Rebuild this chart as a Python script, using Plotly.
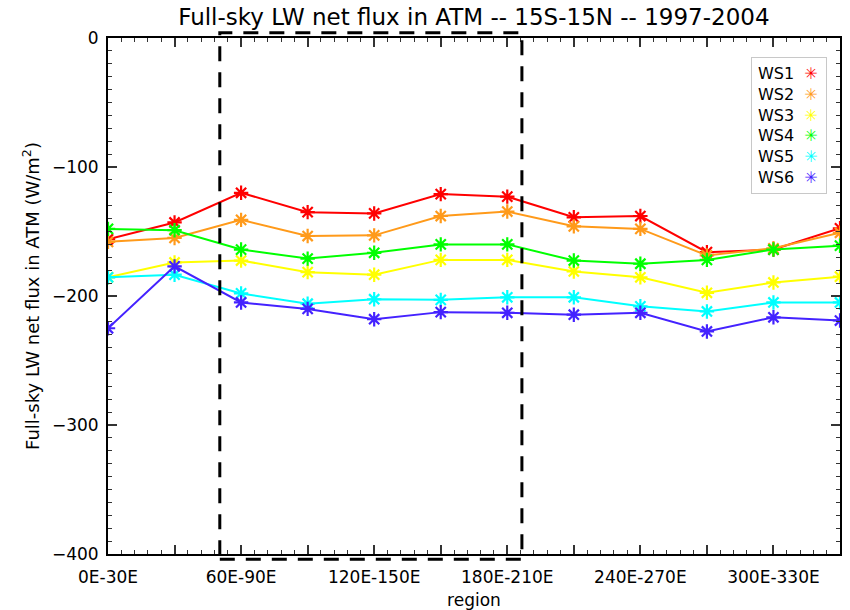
import plotly.graph_objects as go

# ---------------- data ----------------
regions = ["0E-30E", "30E-60E", "60E-90E", "90E-120E", "120E-150E", "150E-180E",
           "180E-210E", "210E-240E", "240E-270E", "270E-300E", "300E-330E", "330E-360E"]
tick_labels = ["0E-30E", "", "60E-90E", "", "120E-150E", "", "180E-210E", "",
               "240E-270E", "", "300E-330E", ""]

ws1 = [-156, -143, -120, -135, -136, -121, -123, -139, -138, -166, -164, -147.5]
ws2 = [-158, -155, -141, -153.5, -153, -138, -134.5, -146, -148, -168.5, -163, -151]
ws3 = [-185.5, -174, -172.5, -181.5, -183.5, -172, -172, -181, -185.5, -197.5, -189.5, -185]
ws4 = [-148, -149, -164, -171, -166.5, -160, -160, -172.5, -175, -172, -164, -161]
ws5 = [-185.5, -183.5, -198, -206, -202.5, -203, -201, -201, -208, -212, -205, -205]
ws6 = [-225, -177, -205, -210, -218, -212.5, -213, -214.5, -213, -227.5, -216.5, -219]

series_names = ["WS1", "WS2", "WS3", "WS4", "WS5", "WS6"]
series_values = [ws1, ws2, ws3, ws4, ws5, ws6]
series_colors = ["#ff0000", "#ff9a1a", "#ffff00", "#00ff00", "#00ffff", "#4422ff"]

# dashed box (region index coordinates)
box_x = [1.68, 6.22]

FONT = "DejaVu Sans"

# ---------------- figure ----------------
x_idx = list(range(len(regions)))
fig = go.Figure()
for name, vals, col in zip(series_names, series_values, series_colors):
    fig.add_trace(go.Scatter(
        x=x_idx, y=vals, name=name, mode="lines+markers",
        line=dict(color=col, width=2),
        marker=dict(symbol="asterisk-open", size=12, color=col,
                    line=dict(color=col, width=2.2)),
        showlegend=False, hoverinfo="skip"))

# dashed box
fig.add_shape(type="rect", xref="x", yref="paper",
              x0=box_x[0], x1=box_x[1], y0=-0.01, y1=1.01,
              line=dict(color="black", width=3, dash="15px,11px"),
              fillcolor="rgba(0,0,0,0)", layer="above")

# legend drawn as a text box (text then coloured asterisk, as in the original)
legend_lines = [f"{n}\u00a0\u00a0<span style='color:{c}'><b>\u2733</b></span>"
                for n, c in zip(series_names, series_colors)]
fig.add_annotation(xref="paper", yref="paper", x=0.878, y=0.964,
                   xanchor="left", yanchor="top", align="left",
                   text="<br>".join(legend_lines), showarrow=False,
                   font=dict(family=FONT, size=16, color="black"),
                   bordercolor="#c8c8c8", borderwidth=1, borderpad=6,
                   bgcolor="white", width=62)

fig.update_layout(
    width=850, height=610,
    margin=dict(l=108, r=10, t=38, b=56, autoexpand=False),
    paper_bgcolor="white", plot_bgcolor="white",
    font=dict(family=FONT, color="black"),
    title=dict(text="Full-sky LW net flux in ATM -- 15S-15N -- 1997-2004",
               x=0.5575, xanchor="center", y=0.972, yanchor="middle",
               yref="container", font=dict(family=FONT, size=23, color="black")),
    xaxis=dict(range=[0, 11], tickmode="array", tickvals=x_idx, ticktext=tick_labels,
               ticks="inside", ticklen=9, tickwidth=1.5, tickcolor="#333",
               minor=dict(dtick=0.2, ticks="inside", ticklen=4, tickwidth=1, tickcolor="#333"),
               showline=True, linecolor="black", linewidth=2, mirror="allticks",
               showgrid=False, zeroline=False, automargin=False,
               tickfont=dict(family=FONT, size=17, color="black"),
               ticklabelstandoff=7,
               title=dict(text="region", font=dict(family=FONT, size=17, color="black"),
                          standoff=10)),
    yaxis=dict(range=[-400, 0], dtick=100, tick0=0,
               ticks="inside", ticklen=9, tickwidth=1.5, tickcolor="#333",
               minor=dict(dtick=10, ticks="inside", ticklen=4, tickwidth=1, tickcolor="#333"),
               showline=True, linecolor="black", linewidth=2, mirror="allticks",
               showgrid=False, zeroline=False, automargin=False,
               tickfont=dict(family=FONT, size=17, color="black"),
               ticklabelstandoff=4,
               title=dict(text="Full-sky LW net flux in ATM (W/m<sup>2</sup>)",
                          font=dict(family=FONT, size=18, color="black"), standoff=8)),
)

fig.write_html("out.html", config={"displayModeBar": False},
               post_script="document.body.style.margin='0';document.body.style.padding='0';")
